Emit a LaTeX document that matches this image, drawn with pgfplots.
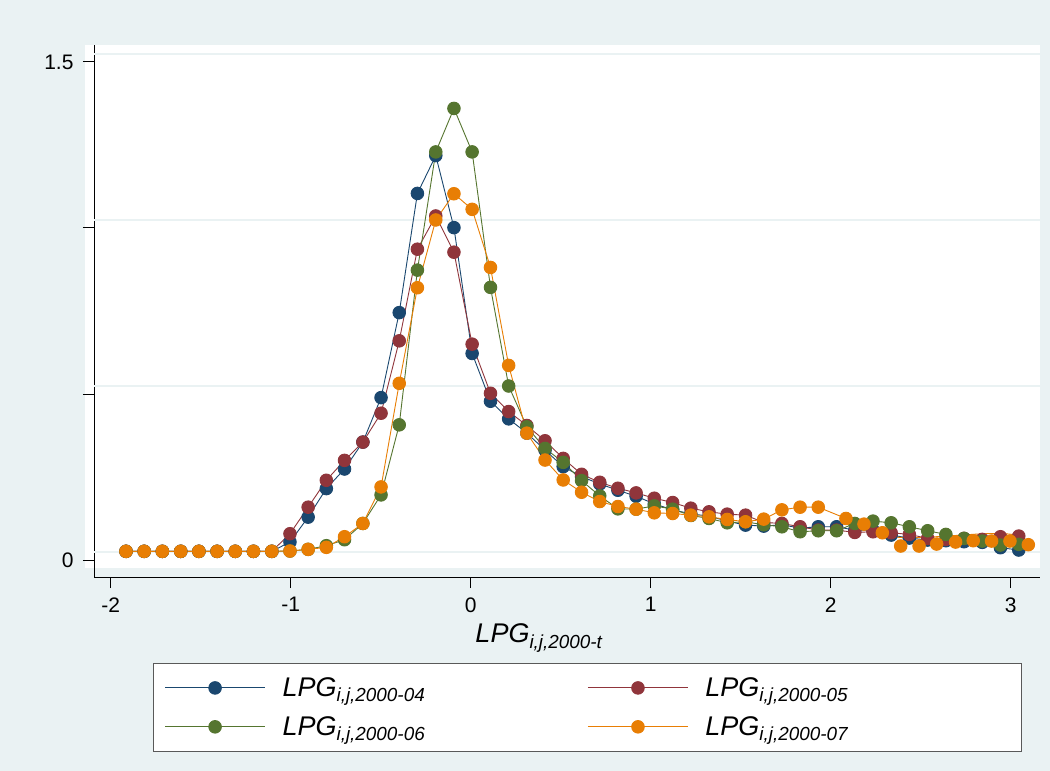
\documentclass[border=0pt]{standalone}
\usepackage{pgfplots}
\pgfplotsset{compat=1.18}
\usepackage{pgfplotstable}
\usepackage{fontspec}
\setmainfont{Liberation Sans}

\definecolor{bgc}{RGB}{234,242,243}
\definecolor{gridc}{RGB}{234,242,243}
\definecolor{snavy}{RGB}{26,71,111}
\definecolor{smaroon}{RGB}{144,53,59}
\definecolor{sgreen}{RGB}{85,117,47}
\definecolor{sorange}{RGB}{232,126,4}

% kernel density estimates, 50 points each
\pgfplotstableread{
x      blue  red   green
-1.915 0.002 0.002 0.002
-1.814 0.002 0.002 0.002
-1.713 0.002 0.002 0.002
-1.611 0.002 0.002 0.002
-1.510 0.002 0.002 0.002
-1.409 0.002 0.002 0.002
-1.308 0.002 0.002 0.002
-1.207 0.002 0.002 0.002
-1.105 0.002 0.002 0.002
-1.004 0.030 0.055 0.003
-0.903 0.105 0.135 0.008
-0.802 0.191 0.216 0.019
-0.701 0.250 0.276 0.037
-0.599 0.331 0.331 0.086
-0.498 0.465 0.418 0.172
-0.397 0.721 0.636 0.383
-0.296 1.080 0.912 0.849
-0.194 1.194 1.012 1.205
-0.093 0.977 0.903 1.336
 0.008 0.598 0.626 1.205
 0.110 0.454 0.478 0.797
 0.211 0.401 0.423 0.500
 0.312 0.358 0.381 0.377
 0.413 0.307 0.335 0.312
 0.514 0.257 0.282 0.270
 0.616 0.227 0.234 0.215
 0.717 0.205 0.210 0.169
 0.818 0.186 0.192 0.130
 0.919 0.168 0.178 0.129
 1.020 0.145 0.162 0.139
 1.122 0.127 0.149 0.129
 1.223 0.115 0.132 0.110
 1.324 0.108 0.121 0.101
 1.425 0.093 0.114 0.088
 1.527 0.081 0.111 0.091
 1.628 0.078 0.089 0.082
 1.729 0.082 0.086 0.076
 1.830 0.072 0.076 0.061
 1.931 0.076 0.066 0.064
 2.033 0.076 0.066 0.064
 2.134 0.066 0.059 0.086
 2.235 0.066 0.061 0.093
 2.336 0.051 0.058 0.088
 2.437 0.042 0.053 0.076
 2.539 0.036 0.041 0.064
 2.640 0.034 0.038 0.053
 2.741 0.031 0.041 0.041
 2.842 0.029 0.038 0.033
 2.943 0.013 0.046 0.021
 3.045 0.006 0.048 0.023
}\maintab

\pgfplotstableread{
x      y
-1.915 0.002
-1.814 0.002
-1.713 0.002
-1.611 0.002
-1.510 0.002
-1.409 0.002
-1.308 0.002
-1.207 0.002
-1.105 0.002
-1.004 0.003
-0.903 0.008
-0.802 0.014
-0.701 0.046
-0.599 0.086
-0.498 0.196
-0.397 0.508
-0.296 0.796
-0.194 1.000
-0.093 1.079
 0.008 1.032
 0.110 0.857
 0.211 0.562
 0.312 0.358
 0.413 0.277
 0.514 0.217
 0.616 0.180
 0.717 0.152
 0.818 0.137
 0.919 0.129
 1.020 0.118
 1.122 0.116
 1.223 0.111
 1.324 0.106
 1.425 0.098
 1.527 0.091
 1.628 0.099
 1.729 0.127
 1.830 0.135
 1.931 0.135
 2.085 0.101
 2.185 0.084
 2.287 0.058
}\orangetab

\pgfplotstableread{
x     y
2.389 0.018
2.491 0.018
2.589 0.024
2.694 0.030
2.792 0.034
2.894 0.033
2.996 0.033
3.098 0.022
}\orangedots

\pgfplotstableread{
x     y
2.287 0.058
2.340 0.047
2.420 0.043
2.550 0.045
2.700 0.050
2.850 0.055
2.970 0.055
3.050 0.050
}\orangetail

\pgfplotsset{
  lpg/.style={#1, line width=0.9pt, mark=*, mark size=6.3pt,
    mark options={solid, fill=#1, draw=#1}},
}
\newcommand{\lent}[1]{\makebox[322pt][l]{\hspace{17pt}\textit{LPG\textsubscript{i,j,2000-#1}}}}

\begin{document}
\begin{tikzpicture}
\fill[bgc] (0pt,0pt) rectangle (1050pt,-771pt);
\fill[white] (85pt,-45pt) rectangle (1040pt,-568pt);
\begin{axis}[
  at={(94pt,-577pt)}, anchor=south west,
  scale only axis, width=946pt, height=532pt,
  xmin=-2.0928, xmax=3.163, ymin=-0.0753, ymax=1.527,
  axis x line*=bottom, axis y line*=left,
  axis line style={black, line width=0.9pt, -},
  xtick={-2,-1,0,1,2,3}, xticklabels={-2,-1,0,1,2,3},
  ytick={-0.024,0.476,0.976,1.476}, yticklabels={0,,,1.5},
  extra y ticks={0,0.5,1,1.5}, extra y tick labels={},
  extra y tick style={grid=major, major tick length=0pt},
  grid style={gridc, line width=1.1pt},
  tick align=outside, major tick length=11pt,
  tick style={black, line width=0.9pt},
  tick label style={font=\fontsize{21}{24}\selectfont},
  yticklabel style={xshift=-6pt},
  xticklabel style={yshift=-6pt},
  xlabel={\textit{LPG\textsubscript{i,j,2000-t}}},
  xlabel style={font=\fontsize{27}{30}\selectfont,
    at={(axis description cs:0.4704,-0.124)}, anchor=base},
  legend columns=2, legend cell align=left,
  legend style={at={(axis description cs:0.5217,-0.1617)}, anchor=north,
    draw=black!65, line width=0.9pt, fill=white,
    inner xsep=11pt, inner ysep=5pt, nodes={inner sep=0pt},
    column sep=0pt, row sep=0pt, font=\fontsize{27}{30}\selectfont},
  legend image code/.code={%
    \path (0pt,-19pt) (0pt,19pt);
    \draw[mark repeat=2, mark phase=2]
      plot coordinates {(0pt,0pt) (50pt,0pt) (100pt,0pt)};},
  clip=false,
]
\addplot[lpg=snavy] table[x=x, y=blue] {\maintab};
\addlegendentry{\lent{04}}
\addplot[lpg=smaroon] table[x=x, y=red] {\maintab};
\addlegendentry{\lent{05}}
\addplot[lpg=sgreen] table[x=x, y=green] {\maintab};
\addlegendentry{\lent{06}}
\addplot[lpg=sorange] table[x=x, y=y] {\orangetab};
\addlegendentry{\lent{07}}
\addplot[lpg=sorange, only marks, forget plot] table[x=x, y=y] {\orangedots};
\addplot[sorange, line width=0.9pt, smooth, forget plot] table[x=x, y=y] {\orangetail};
\end{axis}
\end{tikzpicture}
\end{document}
